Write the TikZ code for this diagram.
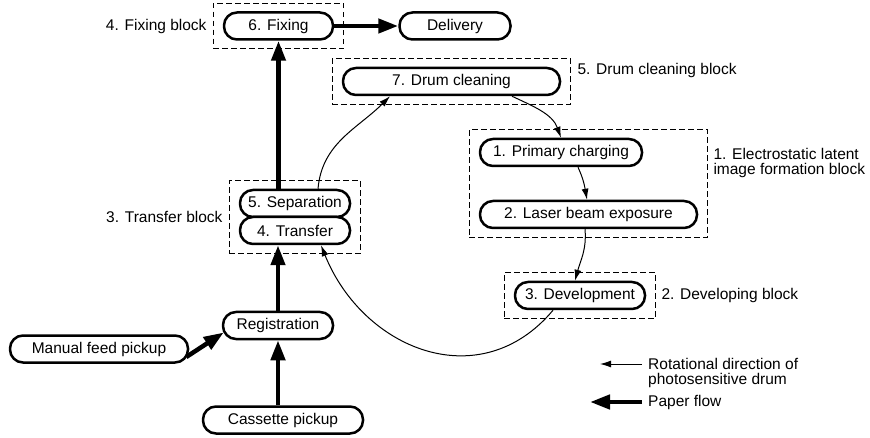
\documentclass[tikz,border=0pt]{standalone}
\usepackage{fontspec}
\setmainfont{Liberation Sans}
\usetikzlibrary{arrows.meta,positioning,fit,calc}

\begin{document}
\begin{tikzpicture}[
  x=1pt,y=-1pt,
  every node/.style={font=\fontsize{15.5}{15}\selectfont},
  stage/.style={draw,line width=2.5pt,rounded corners=13pt,fill=white,
                minimum height=27pt,inner sep=0pt,align=center},
  blockframe/.style={draw,dash pattern=on 5.5pt off 3.5pt,line width=1.1pt,
                     inner xsep=9.5pt,inner ysep=8pt},
  blocklbl/.style={inner sep=0pt,align=left},
  paperflow/.style={-{Triangle[length=20pt,width=14pt]},line width=4.5pt},
  drumrot/.style={-{Latex[length=11pt,width=7pt]},line width=1pt}
]
\useasboundingbox (0,0) rectangle (870,438);

% paper path
\node[stage,minimum width=109pt] (fix) at (278.5,26) {6. Fixing};
\node[stage,minimum width=111pt,right=64pt of fix] (deliv) {Delivery};
\node[stage,minimum width=110pt] (sep) at (295,203.5) {5. Separation};
\node[stage,minimum width=110pt,below=-2.5pt of sep] (trans) {4. Transfer};
\node[stage,minimum width=110pt] (reg) at (278,325.5) {Registration};
\node[stage,minimum width=178pt] (manual) at (99,349) {Manual feed pickup};
\node[stage,minimum width=160pt] (cass) at (283,420) {Cassette pickup};

% drum stations
\node[stage,minimum width=217pt] (clean) at (451.5,81.5) {7. Drum cleaning};
\node[stage,minimum width=162pt] (prim) at (561,152.5) {1. Primary charging};
\node[stage,minimum width=217pt] (laser) at (588.5,214.5) {2. Laser beam exposure};
\node[stage,minimum width=130pt] (dev) at (580,295.5) {3. Development};

% blocks
\node[blockframe,fit=(fix)] (fixblk) {};
\node[blockframe,fit=(clean)] (cleanblk) {};
\node[blockframe,fit=(prim)(laser)] (latentblk) {};
\node[blockframe,fit=(dev)] (devblk) {};
\node[blockframe,fit=(sep)(trans)] (transblk) {};

\node[blocklbl,left=6pt of fixblk] (fixlbl) {4. Fixing block};
\node[blocklbl,anchor=west] (cleanlbl) at ([xshift=6pt,yshift=-12pt]cleanblk.north east)
  {5. Drum cleaning block};
\node[blocklbl,anchor=north west] (latentlbl) at ([xshift=5pt,yshift=-19pt]latentblk.north east)
  {1. Electrostatic latent\\image formation block};
\node[blocklbl,right=5pt of devblk] (devlbl) {2. Developing block};
\node[blocklbl,left=6pt of transblk] (translbl) {3. Transfer block};

% paper flow
\draw[paperflow] (cass.north -| reg.south) -- (reg.south);
\draw[paperflow] ([xshift=-3pt,yshift=-8pt]manual.east) -- ([xshift=2pt,yshift=-7pt]reg.west);
\draw[paperflow] (reg.north) -- (trans.south -| reg.north);
\draw[paperflow] (sep.north -| fix.south) -- (fix.south);
\draw[paperflow] (fix.east) -- (deliv.west);

% drum rotation
\draw[drumrot] ([xshift=23pt]sep.north) to[out=85,in=225] ([xshift=-61.5pt]clean.south);
\draw[drumrot] ([xshift=60.5pt]clean.south) to[out=-25,in=110] (prim.north);
\draw[drumrot] ([xshift=17pt]prim.south) to[out=-65,in=100] ([xshift=-1.5pt]laser.north);
\draw[drumrot] ([xshift=-3.5pt]laser.south) to[out=-85,in=75] ([xshift=-5pt]dev.north);
\draw[drumrot] ([xshift=-27pt]dev.south) to[out=-130,in=-68,looseness=1.2] ([xshift=26pt]trans.south);

% legend
\coordinate (rotR) at (642,364);
\coordinate (rotL) at (600,364);
\coordinate (papR) at (642,402);
\coordinate (papL) at (590,402);
\draw[drumrot] (rotR) -- (rotL);
\draw[paperflow] (papR) -- (papL);
\node[blocklbl,anchor=north west] (rotlbl) at ([xshift=6pt,yshift=6pt]rotR)
  {Rotational direction of\\photosensitive drum};
\node[blocklbl,right=6pt of papR] (paplbl) {Paper flow};
\end{tikzpicture}
\end{document}
